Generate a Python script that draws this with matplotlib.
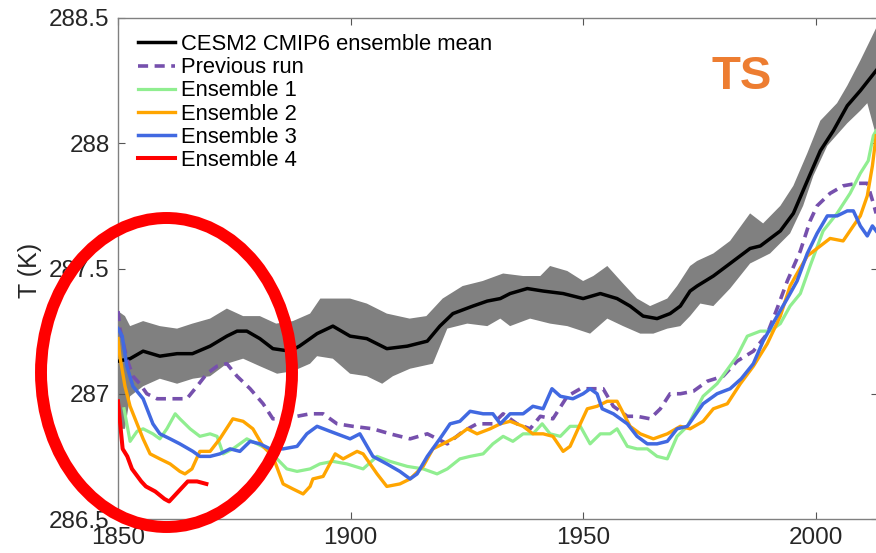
import matplotlib
matplotlib.use("Agg")
import matplotlib.pyplot as plt
from matplotlib.patches import Ellipse

plt.rcParams['font.family'] = ['Liberation Sans', 'DejaVu Sans']

# ---- CESM2 CMIP6 ensemble mean and spread ----
mean_years = [1850, 1852.6, 1855.4, 1859, 1862.7, 1866, 1869.8, 1873.4, 1875.6, 1877.7,
              1880.5, 1883.3, 1887, 1889, 1891.3, 1892.8, 1896.2, 1899.9, 1903.5, 1907.8,
              1912.2, 1916.5, 1919.2, 1922, 1926.3, 1929.4, 1932.2, 1934.3, 1938, 1941.4,
              1945.7, 1950, 1953.7, 1957.3, 1960.1, 1962.9, 1965.9, 1968.7, 1970.9, 1973,
              1974.5, 1978, 1981.6, 1985.9, 1988.1, 1992.4, 1995.2, 1998.2, 2001, 2003.8,
              2006.8, 2009.6, 2013]
mean_vals = [287.13, 287.14, 287.17, 287.15, 287.16, 287.16, 287.19, 287.23, 287.25, 287.25,
             287.22, 287.18, 287.17, 287.19, 287.22, 287.24, 287.27, 287.23, 287.22, 287.18,
             287.19, 287.21, 287.27, 287.32, 287.35, 287.37, 287.38, 287.40, 287.42, 287.41,
             287.40, 287.38, 287.40, 287.38, 287.35, 287.31, 287.30, 287.32, 287.35, 287.41,
             287.43, 287.47, 287.52, 287.58, 287.59, 287.65, 287.72, 287.85, 287.97, 288.05,
             288.15, 288.21, 288.29]

upper_years = [1850, 1851.5, 1852.6, 1855.4, 1859, 1862.7, 1866, 1869.8, 1873.4, 1876.9,
               1880.5, 1884, 1887.6, 1891.3, 1893.5, 1899.9, 1903.5, 1907.8, 1912.7, 1916.3,
               1919.8, 1924.1, 1928.4, 1932.8, 1937.1, 1940.8, 1942.9, 1946.6, 1950, 1952.2,
               1955.2, 1958.6, 1961.6, 1964.4, 1968.1, 1970.2, 1973, 1974.5, 1978, 1981.6,
               1985.9, 1988.7, 1992.4, 1995.2, 1998.2, 2001, 2004.6, 2006.8, 2009.6, 2011.7,
               2013]
upper_vals = [287.33, 287.31, 287.27, 287.29, 287.27, 287.26, 287.28, 287.30, 287.34, 287.31,
              287.31, 287.28, 287.29, 287.32, 287.38, 287.38, 287.36, 287.32, 287.30, 287.31,
              287.38, 287.43, 287.45, 287.48, 287.47, 287.47, 287.51, 287.49, 287.45, 287.47,
              287.51, 287.44, 287.38, 287.35, 287.38, 287.43, 287.51, 287.53, 287.56, 287.61,
              287.72, 287.68, 287.75, 287.83, 287.96, 288.09, 288.16, 288.23, 288.33, 288.41,
              288.46]

lower_years = [1850, 1851.5, 1852.6, 1855.4, 1859, 1862.7, 1866.1, 1869.8, 1873.4, 1876.9,
               1880.5, 1884.2, 1887.6, 1891.3, 1892.8, 1896.2, 1899.9, 1903.5, 1906.8, 1909.1,
               1912.8, 1917.7, 1920.8, 1925.1, 1929.4, 1932.2, 1934.3, 1938.6, 1942.9, 1946.6,
               1951.5, 1955.2, 1958.6, 1962.3, 1965.1, 1968.1, 1970.9, 1973, 1975.2, 1978,
               1981.6, 1985.9, 1990.2, 1994.5, 1997.3, 1999.5, 2002.5, 2006.8, 2009.6, 2011.1,
               2013]
lower_vals = [286.86, 286.86, 286.99, 287.03, 287.06, 287.04, 287.06, 287.07, 287.12, 287.14,
              287.11, 287.08, 287.09, 287.12, 287.15, 287.14, 287.08, 287.07, 287.04, 287.07,
              287.10, 287.12, 287.26, 287.28, 287.27, 287.30, 287.27, 287.30, 287.28, 287.27,
              287.24, 287.30, 287.27, 287.24, 287.24, 287.26, 287.27, 287.31, 287.36, 287.35,
              287.42, 287.52, 287.56, 287.64, 287.75, 287.87, 287.99, 288.08, 288.13, 288.16,
              288.03]

# ---- previous run ----
prev_years = [1850, 1850.4, 1851.9, 1853.2, 1854.7, 1856.2, 1858.4, 1861.8, 1864.8, 1867,
              1869.1, 1871.3, 1873.4, 1875.6, 1878.4, 1881.2, 1883.3, 1885.5, 1888.5, 1891.3,
              1894.1, 1897.1, 1900.5, 1904.8, 1908.5, 1912.8, 1916.5, 1920.8, 1924.2, 1927.2,
              1930.6, 1932.8, 1935.8, 1938.6, 1940.8, 1943.5, 1946.6, 1949.4, 1952.2, 1954.3,
              1956.5, 1959.5, 1961.6, 1964.4, 1966.6, 1968.7, 1970.9, 1973.7, 1976.7, 1980.1,
              1983.1, 1986.6, 1989.6, 1991.7, 1993.9, 1996.7, 1998.8, 2000.3, 2003.1, 2005.9,
              2008.9, 2011.1, 2012.4, 2013]
prev_vals = [287.33, 287.26, 287.14, 287.07, 287.04, 287.00, 286.98, 286.98, 286.98, 287.03,
             287.08, 287.11, 287.12, 287.07, 287.02, 286.96, 286.90, 286.90, 286.91, 286.92,
             286.92, 286.88, 286.87, 286.86, 286.84, 286.82, 286.84, 286.80, 286.85, 286.88,
             286.88, 286.92, 286.88, 286.86, 286.91, 286.90, 286.99, 287.02, 287.02, 287.02,
             286.95, 286.91, 286.91, 286.90, 286.94, 287.00, 287.00, 287.01, 287.05, 287.07,
             287.13, 287.17, 287.24, 287.34, 287.45, 287.57, 287.69, 287.75, 287.80, 287.83,
             287.84, 287.84, 287.76, 287.72]

# ---- ensemble members ----
ens1_years = [1851.3, 1852.6, 1854.1, 1855.4, 1857.5, 1859, 1860.5, 1862.3, 1863.3, 1865.5,
              1867.6, 1869.8, 1871.3, 1872.6, 1874.7, 1877.7, 1879.9, 1882, 1884.2, 1886.3,
              1888.5, 1891.3, 1893.4, 1896.2, 1899.2, 1902.7, 1905.7, 1908.5, 1912.2, 1915.6,
              1918.6, 1920.8, 1923.5, 1925.7, 1928.5, 1930.6, 1932.8, 1934.9, 1937.1, 1939.2,
              1941.2, 1942.9, 1945.1, 1947.2, 1949.4, 1951.5, 1953.7, 1955.8, 1957.3, 1959.5,
              1961.6, 1963.8, 1965.9, 1968.1, 1970.2, 1972.4, 1975.8, 1978.8, 1983.1, 1985.3,
              1988.1, 1990.2, 1992.4, 1994.5, 1996.7, 1998.8, 2001.6, 2004.6, 2007.4, 2009.6,
              2011.3, 2012.4, 2013]
ens1_vals = [286.94, 286.81, 286.85, 286.86, 286.84, 286.82, 286.86, 286.92, 286.90, 286.86,
             286.83, 286.84, 286.83, 286.76, 286.78, 286.82, 286.80, 286.78, 286.74, 286.70,
             286.69, 286.70, 286.72, 286.73, 286.72, 286.70, 286.75, 286.73, 286.71, 286.70,
             286.68, 286.70, 286.74, 286.75, 286.76, 286.80, 286.83, 286.81, 286.84, 286.84,
             286.88, 286.84, 286.83, 286.87, 286.87, 286.80, 286.84, 286.84, 286.86, 286.79,
             286.78, 286.78, 286.75, 286.74, 286.83, 286.87, 286.99, 287.04, 287.15, 287.23,
             287.25, 287.25, 287.28, 287.35, 287.40, 287.51, 287.65, 287.72, 287.80, 287.88,
             287.93, 288.03, 288.05]

ens2_years = [1850, 1850.4, 1851.5, 1852.6, 1854.1, 1855.4, 1856.9, 1859, 1861.2, 1863.3,
              1864.4, 1865.9, 1867.6, 1869.8, 1871.9, 1874.7, 1876.9, 1879, 1881.2, 1883.3,
              1885.5, 1887.6, 1889.8, 1891.3, 1891.9, 1894.1, 1896.7, 1898.4, 1901.4, 1902.7,
              1905.7, 1907.8, 1910.6, 1912.8, 1915.6, 1917.7, 1919.9, 1922.9, 1925.1, 1927.2,
              1930, 1932.2, 1934.3, 1937.1, 1939.2, 1941.4, 1943.5, 1945.7, 1947.2, 1949.4,
              1950.9, 1953, 1955.2, 1957.3, 1960.1, 1962.3, 1965.1, 1968.1, 1970.9, 1973,
              1975.8, 1978, 1981, 1983.8, 1986.6, 1989.6, 1992.4, 1994.5, 1996, 1998.2,
              2001, 2003.1, 2005.9, 2008.1, 2009.6, 2011.1, 2012.2, 2013]
ens2_vals = [287.22, 287.15, 287.03, 286.95, 286.88, 286.82, 286.76, 286.74, 286.72, 286.69,
             286.68, 286.70, 286.77, 286.77, 286.82, 286.90, 286.89, 286.86, 286.79, 286.75,
             286.64, 286.62, 286.60, 286.63, 286.66, 286.67, 286.76, 286.74, 286.77, 286.76,
             286.68, 286.63, 286.64, 286.66, 286.71, 286.78, 286.80, 286.83, 286.86, 286.84,
             286.86, 286.88, 286.89, 286.87, 286.84, 286.84, 286.83, 286.77, 286.79, 286.88,
             286.94, 286.95, 286.97, 286.97, 286.87, 286.84, 286.82, 286.84, 286.87, 286.86,
             286.89, 286.94, 286.96, 287.04, 287.11, 287.20, 287.31, 287.43, 287.48, 287.55,
             287.59, 287.62, 287.61, 287.67, 287.71, 287.79, 287.91, 288.03]

ens3_years = [1850, 1850.9, 1851.9, 1853.2, 1855.4, 1857.5, 1859, 1861.2, 1863.3, 1866.1,
              1867.6, 1869.8, 1871.9, 1874.1, 1876.2, 1878.4, 1880.5, 1882.7, 1885.5, 1888.5,
              1890.6, 1892.8, 1895.6, 1899.9, 1902, 1904.8, 1907.8, 1910.6, 1912.8, 1914.3,
              1916.5, 1919.2, 1921.4, 1923.5, 1925.7, 1928.5, 1930.6, 1932.2, 1934.3, 1937.1,
              1939.2, 1941.4, 1943.3, 1945.1, 1947.8, 1950, 1951.5, 1953, 1954.1, 1956.5,
              1959.5, 1961.6, 1963.8, 1965.9, 1968.1, 1970.2, 1972.4, 1975.8, 1978.8, 1981.6,
              1984, 1986.6, 1988.7, 1991.7, 1993.9, 1996, 1998.2, 2000.3, 2002.5, 2004.6,
              2006.8, 2008.1, 2009.6, 2011.1, 2012.2, 2013]
ens3_vals = [287.26, 287.23, 287.11, 287.03, 286.98, 286.88, 286.84, 286.82, 286.80, 286.77,
             286.75, 286.75, 286.76, 286.78, 286.77, 286.81, 286.80, 286.78, 286.78, 286.79,
             286.84, 286.87, 286.85, 286.82, 286.84, 286.75, 286.72, 286.69, 286.66, 286.68,
             286.75, 286.82, 286.88, 286.89, 286.93, 286.92, 286.92, 286.88, 286.92, 286.92,
             286.95, 286.94, 287.02, 286.99, 286.98, 287.00, 287.02, 287.00, 286.94, 286.92,
             286.88, 286.83, 286.80, 286.80, 286.81, 286.86, 286.87, 286.96, 287.00, 287.02,
             287.06, 287.12, 287.21, 287.31, 287.38, 287.45, 287.56, 287.64, 287.71, 287.71,
             287.73, 287.73, 287.67, 287.63, 287.67, 287.65]

ens4_years = [1850, 1851, 1852, 1853, 1855, 1856, 1858, 1860, 1861, 1863, 1865, 1867, 1869]
ens4_vals = [286.97, 286.78, 286.75, 286.70, 286.65, 286.63, 286.61, 286.58, 286.57, 286.61,
             286.65, 286.65, 286.64]

xticks = [1850, 1900, 1950, 2000]
yticks = [286.5, 287, 287.5, 288, 288.5]
ytick_labels = ['286.5', '287', '287.5', '288', '288.5']

W, H = 876, 553
fig = plt.figure(figsize=(W / 100, H / 100), dpi=100)
ax = fig.add_axes([118 / W, 34 / H, 760 / W, 501 / H])

# spread of the ensemble, drawn as a polygon between the two envelopes
band_x = upper_years + lower_years[::-1]
band_y = upper_vals + lower_vals[::-1]
ax.fill(band_x, band_y, color='#808080', lw=0, zorder=1)

ax.plot(mean_years, mean_vals, color='black', lw=2.5, zorder=3,
        label='CESM2 CMIP6 ensemble mean')
ax.plot(prev_years, prev_vals, color='#7650ad', lw=2.6, ls=(0, (2.8, 1.8)), zorder=3,
        label='Previous run')
ax.plot(ens1_years, ens1_vals, color='#90ee90', lw=2.3, zorder=3, label='Ensemble 1')
ax.plot(ens2_years, ens2_vals, color='#ffa500', lw=2.4, zorder=3, label='Ensemble 2')
ax.plot(ens3_years, ens3_vals, color='#4169e1', lw=2.5, zorder=3, label='Ensemble 3')
ax.plot(ens4_years, ens4_vals, color='#ff0000', lw=2.9, zorder=3, label='Ensemble 4')

ax.set_xlim(1850, 2013.4)
ax.set_ylim(286.5, 288.5)
ax.set_xticks(xticks)
ax.set_yticks(yticks)
ax.set_yticklabels(ytick_labels)

for s in ax.spines.values():
    s.set_color('#808080')
    s.set_linewidth(1.0)
ax.tick_params(direction='in', length=5, width=0.8, color='#555555',
               top=True, right=True, labelsize=17.5, labelcolor='#262626', pad=6)

leg = ax.legend(loc='upper left', bbox_to_anchor=(0.026, 0.968), frameon=False,
                fontsize=15.8, handlelength=1.7, handletextpad=0.25,
                labelspacing=0.1, borderpad=0, borderaxespad=0)

# variable tag, placed in display pixels
fig.text(742 / W, 1 - 77 / H, 'TS', fontsize=34, fontweight='bold',
         color='#ed7d31', ha='center', va='center')

fig.text(30 / W, 1 - 270 / H, 'T (K)', rotation=90, fontsize=18, color='#262626',
         ha='center', va='center')

# highlight of the early period
ring = Ellipse((166.5 / W, 1 - 372.5 / H), 251 / W, 309 / H, transform=fig.transFigure,
               fill=False, edgecolor='#ff0000', lw=8.6, zorder=10, clip_on=False)
fig.add_artist(ring)

fig.savefig('out.png', dpi=100)
